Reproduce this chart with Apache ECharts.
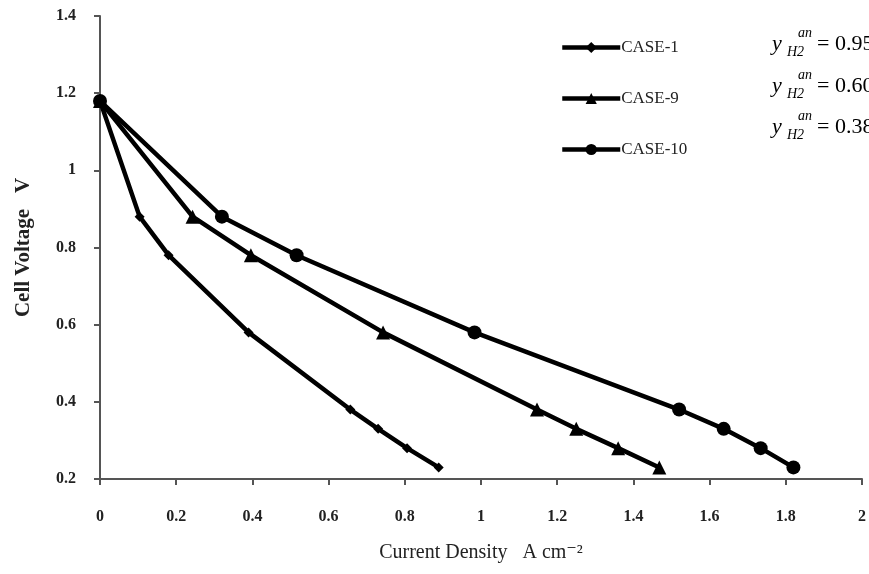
<!DOCTYPE html>
<html>
<head>
<meta charset="utf-8">
<script src="https://cdn.jsdelivr.net/npm/echarts@6/dist/echarts.min.js"></script>
<style>
    html, body { margin: 0; padding: 0; background: #fff; }
    #chart { width: 869px; height: 574px; }
</style>
</head>
<body>
<div id="chart"></div>
<script>
    // current density (A cm-2) vs cell voltage (V)
    var voltage = [1.18, 0.88, 0.78, 0.58, 0.38, 0.33, 0.28, 0.23];
    var case1X = [0, 0.104, 0.18, 0.39, 0.657, 0.73, 0.806, 0.889];
    var case9X = [0, 0.243, 0.396, 0.743, 1.147, 1.25, 1.36, 1.468];
    var case10X = [0, 0.32, 0.516, 0.983, 1.52, 1.637, 1.734, 1.82];

    var seriesNames = ['CASE-1', 'CASE-9', 'CASE-10'];
    var h2Fractions = ['0.95', '0.60', '0.38'];

    var serif = '"Liberation Serif", "DejaVu Serif", serif';

    function pairs(xs) {
        return xs.map(function (x, i) { return [x, voltage[i]]; });
    }

    function lineSeries(name, xs, symbol, size) {
        return {
            name: name,
            type: 'line',
            data: pairs(xs),
            symbol: symbol,
            symbolSize: size,
            showAllSymbol: true,
            lineStyle: { color: '#000', width: 4.5 },
            itemStyle: { color: '#000' },
            z: 3
        };
    }

    // y_H2^an = ... labels, built from small text pieces (cut at the right edge like the original)
    var rowY = [44, 86, 127];
    var notes = [];
    rowY.forEach(function (y, i) {
        notes.push({ type: 'text', x: 772, y: y, style: { text: 'y', font: 'italic 22px ' + serif, fill: '#000', verticalAlign: 'middle' } });
        notes.push({ type: 'text', x: 798, y: y - 11, style: { text: 'an', font: 'italic 14px ' + serif, fill: '#000', verticalAlign: 'middle' } });
        notes.push({ type: 'text', x: 787, y: y + 8, style: { text: 'H2', font: 'italic 14px ' + serif, fill: '#000', verticalAlign: 'middle' } });
        notes.push({ type: 'text', x: 817, y: y, style: { text: '= ' + h2Fractions[i], font: '22px ' + serif, fill: '#000', verticalAlign: 'middle' } });
    });

    var chart = echarts.init(document.getElementById('chart'));
    chart.setOption({
        animation: false,
        backgroundColor: '#fff',
        grid: { left: 100, right: 4, top: 16, bottom: 95 },
        legend: {
            data: seriesNames,
            orient: 'vertical',
            left: 555,
            top: 34,
            itemWidth: 58,
            itemHeight: 14,
            itemGap: 34,
            lineStyle: { width: 4.5, color: '#000' },
            textStyle: { fontFamily: serif, fontSize: 17, color: '#222', padding: [0, 0, 0, -4] }
        },
        xAxis: {
            type: 'value',
            min: 0,
            max: 2,
            interval: 0.2,
            name: 'Current Density   A cm\u207B\u00B2',
            nameLocation: 'middle',
            nameGap: 64,
            nameTextStyle: { fontFamily: serif, fontSize: 20, color: '#222' },
            axisLine: { lineStyle: { color: '#555', width: 2 } },
            axisTick: { length: 6, lineStyle: { color: '#555', width: 2 } },
            axisLabel: { fontFamily: serif, fontSize: 16, fontWeight: 'bold', color: '#222', margin: 30 },
            splitLine: { show: false }
        },
        yAxis: {
            type: 'value',
            min: 0.2,
            max: 1.4,
            interval: 0.2,
            name: 'Cell Voltage   V',
            nameLocation: 'middle',
            nameGap: 66,
            nameTextStyle: { fontFamily: serif, fontSize: 21, fontWeight: 'bold', color: '#222' },
            axisLine: { show: true, lineStyle: { color: '#555', width: 2 } },
            axisTick: { show: true, length: 6, lineStyle: { color: '#555', width: 2 } },
            axisLabel: { fontFamily: serif, fontSize: 16, fontWeight: 'bold', color: '#222', margin: 24 },
            splitLine: { show: false }
        },
        series: [
            lineSeries('CASE-1', case1X, 'diamond', 10),
            lineSeries('CASE-9', case9X, 'triangle', 14),
            lineSeries('CASE-10', case10X, 'circle', 14)
        ],
        graphic: notes
    });
</script>
</body>
</html>
